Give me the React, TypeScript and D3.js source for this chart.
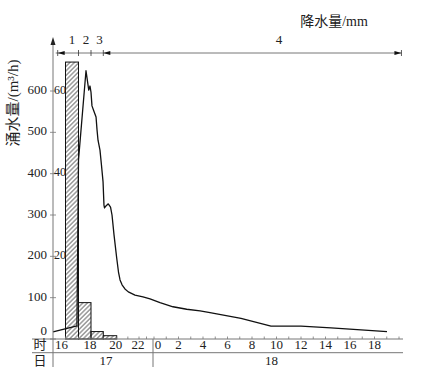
import React from "react";
import * as d3 from "d3";

// Flow curve: time in hours from 17th 00:00, flow in m3/h
const flowTime = [15.04, 16.81, 16.88, 17.0, 17.6, 17.82, 17.92, 18.0, 18.08, 18.2, 18.41, 18.49, 18.57, 18.73, 18.85, 18.98, 19.05, 19.09, 19.2, 19.37, 19.54, 19.65, 19.8, 20.0, 20.16, 20.3, 20.48, 20.74, 21.04, 21.64, 22.53, 23.47, 24.49, 25.55, 26.67, 27.76, 28.57, 31.1, 33.55, 36.0, 38.45, 40.9, 43.02];
const flowValue = [17, 31, 31, 433, 649, 602, 612, 597, 564, 554, 537, 506, 481, 457, 421, 380, 324, 317, 322, 327, 319, 300, 252, 196, 162, 143, 131, 121, 114, 106, 102, 97, 88, 78, 72, 68, 64, 50, 31, 31, 27, 22, 18];

// Rainfall bars (hourly)
const rainStart = [16, 17, 18, 19];
const rainValue = [67, 8.8, 1.8, 0.8];

// Rain periods
const periodBounds = [15.4, 17, 18, 19, 44.2];
const periodLabels = ["1", "2", "3", "4"];
const periodLabelTime = [16.5, 17.6, 18.7, 34.2];

// Axis ticks
const flowTicks = [0, 100, 200, 300, 400, 500, 600];
const rainTicks = [20, 40, 60];
const day17Labels = [16, 18, 20, 22];
const day18Labels = [0, 2, 4, 6, 8, 10, 12, 14, 16, 18];
const dayLabels = [
  { text: "17", t: 19.2 },
  { text: "18", t: 33.6 },
];

const W = 422;
const H = 378;
const serif = "'Liberation Serif', 'DejaVu Serif', 'Noto Sans CJK SC', serif";
const cjk = "'Liberation Serif', 'Noto Sans CJK SC', serif";

export default function App() {
  const x = d3
    .scaleLinear()
    .domain([16, 17, 18, 19, 20, 22, 24, 42])
    .range([65.5, 78.5, 91, 103.3, 116.7, 139, 154, 374.5]);
  const y = d3.scaleLinear().domain([0, 600]).range([339, 91]);
  const yRain = d3.scaleLinear().domain([0, 60]).range([339, 91]);

  const axisX = 53;
  const baseY = y(0);
  const row2Y = 352.7;
  const leftEdge = 32;
  const rightEdge = 403;
  const bottomY = 367;
  const axisColor = "#777";

  const line = d3
    .line<number>()
    .x((_, i) => x(flowTime[i]))
    .y((d) => y(d));

  const hours = d3.range(16, 45);
  const topY = 53;
  const arrow = 5;

  return (
    <svg
      width={W}
      height={H}
      style={{ position: "absolute", left: 0, top: 0, background: "#fff" }}
    >
      <defs>
        <pattern
          id="hatch"
          width={3.2}
          height={3.2}
          patternUnits="userSpaceOnUse"
          patternTransform="rotate(45)"
        >
          <line x1={0.8} y1={0} x2={0.8} y2={3.2} stroke="#444" strokeWidth={0.8} />
        </pattern>
      </defs>

      {/* rainfall bars */}
      {rainStart.map((s, i) => (
        <rect
          key={i}
          x={x(s)}
          y={yRain(rainValue[i])}
          width={x(s + 1) - x(s)}
          height={baseY - yRain(rainValue[i])}
          fill="url(#hatch)"
          stroke="#111"
          strokeWidth={1}
        />
      ))}

      {/* flow curve */}
      <path d={line(flowValue) || ""} fill="none" stroke="#111" strokeWidth={1.3} strokeLinejoin="round" />

      {/* y axis */}
      <line x1={axisX} y1={42} x2={axisX} y2={bottomY} stroke={axisColor} strokeWidth={1} />
      <path d={`M${axisX},37 L${axisX - 2.5},45 L${axisX + 2.5},45 Z`} fill="#222" />
      {flowTicks.map((v) => (
        <g key={v}>
          <line x1={axisX - 3} y1={y(v)} x2={axisX + 3} y2={y(v)} stroke={axisColor} strokeWidth={0.8} />
          <text
            x={47}
            y={y(v) - (v === 0 ? 7 : 0)}
            textAnchor="end"
            dominantBaseline="middle"
            fontFamily={serif}
            fontSize={13}
            fill="#222"
          >
            {v}
          </text>
        </g>
      ))}
      {rainTicks.map((v) => (
        <text
          key={v}
          x={54}
          y={yRain(v)}
          dominantBaseline="middle"
          fontFamily={serif}
          fontSize={12}
          fill="#222"
        >
          {v}
        </text>
      ))}
      <text
        transform={`translate(15,103) rotate(-90)`}
        textAnchor="middle"
        dominantBaseline="middle"
        fontFamily={cjk}
        fontSize={15}
        fill="#222"
      >
        涌水量/(m³/h)
      </text>

      {/* x axis */}
      <line x1={leftEdge} y1={baseY} x2={rightEdge} y2={baseY} stroke={axisColor} strokeWidth={1} />
      <line x1={leftEdge} y1={row2Y} x2={rightEdge} y2={row2Y} stroke={axisColor} strokeWidth={1} />
      <line x1={x(24) - 1} y1={baseY} x2={x(24) - 1} y2={bottomY} stroke={axisColor} strokeWidth={1} />
      {hours.map((h) => (
        <line key={h} x1={x(h)} y1={baseY} x2={x(h)} y2={baseY - 2.5} stroke={axisColor} strokeWidth={0.8} />
      ))}
      {day17Labels.map((h) => (
        <text
          key={"a" + h}
          x={x(h) + (h === 16 ? -4 : -1)}
          y={346.5}
          textAnchor="middle"
          dominantBaseline="middle"
          fontFamily={serif}
          fontSize={13}
          fill="#222"
        >
          {h}
        </text>
      ))}
      {day18Labels.map((h) => (
        <text
          key={"b" + h}
          x={x(24 + h) + (h === 0 ? 4 : 0)}
          y={346.5}
          textAnchor="middle"
          dominantBaseline="middle"
          fontFamily={serif}
          fontSize={13}
          fill="#222"
        >
          {h}
        </text>
      ))}
      <text x={40} y={346.5} textAnchor="middle" dominantBaseline="middle" fontFamily={cjk} fontSize={13} fill="#222">
        时
      </text>
      <text x={40} y={362} textAnchor="middle" dominantBaseline="middle" fontFamily={cjk} fontSize={13} fill="#222">
        日
      </text>
      {dayLabels.map((d) => (
        <text
          key={d.text}
          x={x(d.t)}
          y={362}
          textAnchor="middle"
          dominantBaseline="middle"
          fontFamily={serif}
          fontSize={13}
          fill="#222"
        >
          {d.text}
        </text>
      ))}

      {/* rain periods */}
      <line x1={x(periodBounds[0]) - 2} y1={topY} x2={x(periodBounds[4])} y2={topY} stroke={axisColor} strokeWidth={1} />
      {periodBounds.map((b, i) => (
        <line key={i} x1={x(b)} y1={topY - 3} x2={x(b)} y2={topY + 3} stroke="#333" strokeWidth={0.8} />
      ))}
      <path
        d={`M${x(periodBounds[0])},${topY} L${x(periodBounds[0]) + arrow + 2},${topY - 2} L${x(periodBounds[0]) + arrow + 2},${topY + 2} Z`}
        fill="#111"
      />
      <path
        d={`M${x(periodBounds[3])},${topY} L${x(periodBounds[3]) + arrow + 2},${topY - 2} L${x(periodBounds[3]) + arrow + 2},${topY + 2} Z`}
        fill="#111"
      />
      <path
        d={`M${x(periodBounds[4])},${topY} L${x(periodBounds[4]) - arrow - 2},${topY - 2} L${x(periodBounds[4]) - arrow - 2},${topY + 2} Z`}
        fill="#111"
      />
      {periodLabels.map((l, i) => (
        <text
          key={l}
          x={x(periodLabelTime[i])}
          y={41}
          textAnchor="middle"
          dominantBaseline="middle"
          fontFamily={serif}
          fontSize={13}
          fill="#222"
        >
          {l}
        </text>
      ))}
      <text x={334} y={23} textAnchor="middle" dominantBaseline="middle" fontFamily={cjk} fontSize={14} fill="#222">
        降水量/mm
      </text>
    </svg>
  );
}
